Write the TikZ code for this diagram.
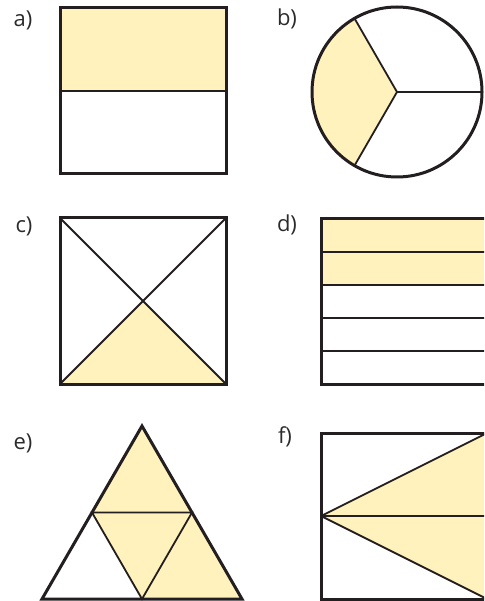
\documentclass[tikz,border=0pt]{standalone}
\usepackage{fontspec}
\setmainfont{Open Sans}
\definecolor{fillY}{HTML}{FFF2BC}
\definecolor{ink}{HTML}{231F20}
\definecolor{labink}{HTML}{2B2B2B}
\begin{document}
\begin{tikzpicture}[x=1pt,y=-1pt,
  outer/.style={draw=ink,line width=3pt,line join=miter},
  inner/.style={draw=ink,line width=1.8pt},
  shade/.style={fill=fillY},
  lab/.style={font=\fontsize{22}{22}\selectfont,text=labink,anchor=center,inner sep=0pt}]
\useasboundingbox (0,0) rectangle (484,601);
\clip (0,0) rectangle (484,601);
% labels
\node[lab] (la) at (23,20) {a)};
\node[lab] (lb) at (287,19) {b)};
\node[lab] (lc) at (24,226) {c)};
\node[lab] (ld) at (287,225) {d)};
\node[lab] (le) at (23,443) {e)};
\node[lab] (lf) at (285,437) {f)};
% a)
\fill[shade] (60,8) rectangle (226,91);
\draw[inner] (60,91) -- (226,91);
\draw[outer] (60,8) rectangle (226,174);
% b)
\coordinate (bc) at (397,92);
\fill[shade] (bc) -- ++(120:85) arc[start angle=120,end angle=240,radius=85] -- cycle;
\draw[inner] (bc) -- ++(0:85);
\draw[inner] (bc) -- ++(120:85);
\draw[inner] (bc) -- ++(240:85);
\draw[outer] (bc) circle[radius=85];
% c)
\coordinate (cc) at (143,301);
\fill[shade] (60,384) -- (cc) -- (226,384) -- cycle;
\draw[inner] (60,218) -- (226,384);
\draw[inner] (226,218) -- (60,384);
\draw[outer] (60,218) rectangle (226,384);
% d)
\fill[shade] (321,219) rectangle (487,285);
\foreach \yy in {252,285,318,351} \draw[inner] (321,\yy) -- (487,\yy);
\draw[outer] (321,219) rectangle (487,384);
% e)
\coordinate (eA) at (142,426);
\coordinate (eL) at (42,599);
\coordinate (eR) at (242,599);
\coordinate (eML) at (92,512.5);
\coordinate (eMR) at (192,512.5);
\coordinate (eMB) at (142,599);
\fill[shade] (eA) -- (eMR) -- (eR) -- (eMB) -- (eML) -- cycle;
\draw[inner] (eML) -- (eMR) -- (eMB) -- cycle;
\draw[outer] (eA) -- (eR) -- (eL) -- cycle;
% f)
\coordinate (fP) at (321,516);
\fill[shade] (fP) -- (487,433) -- (487,599) -- cycle;
\draw[inner] (fP) -- (487,433);
\draw[inner] (fP) -- (487,599);
\draw[inner] (fP) -- (487,516);
\draw[outer] (321,433) rectangle (487,599);
\end{tikzpicture}
\end{document}
